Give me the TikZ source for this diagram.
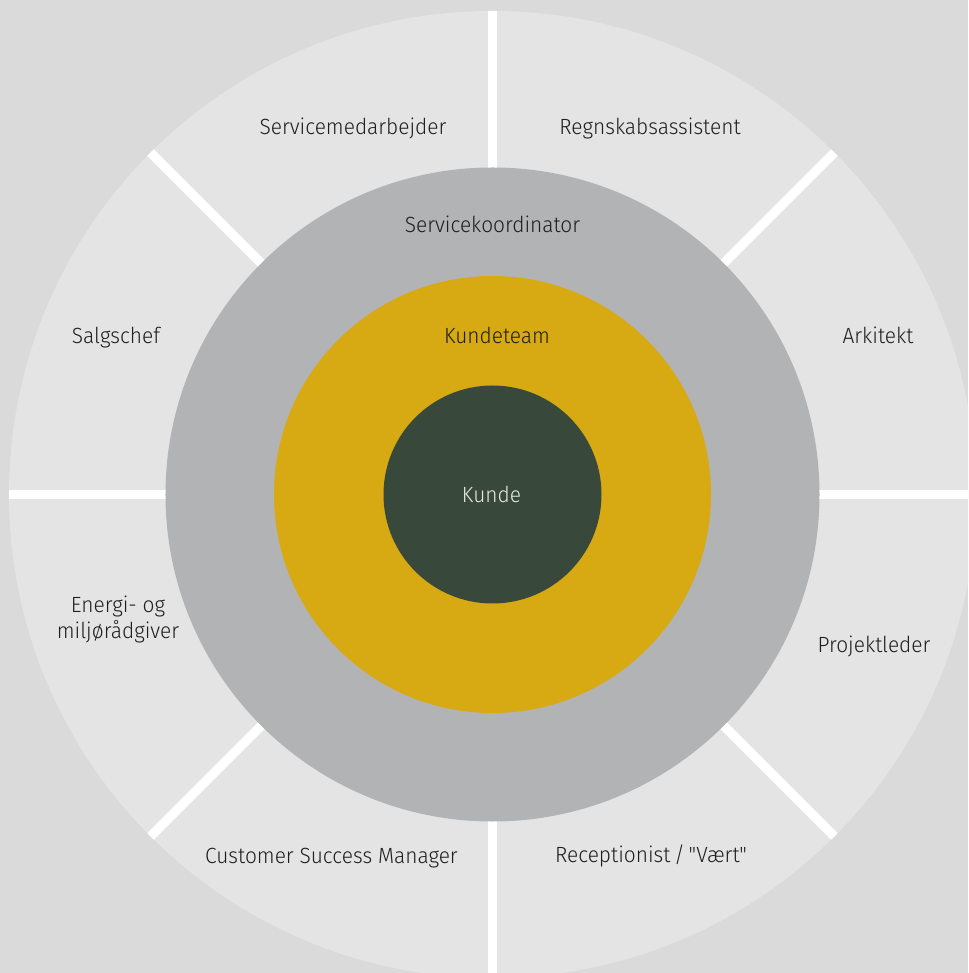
\documentclass[tikz,border=0pt]{standalone}
\usepackage{fontspec}
% label face without TeX quote mapping, so " stays a straight quote
\newfontfamily\labelfont{Fira Sans}[UprightFont={* Light}, FakeStretch=0.95]
\definecolor{bgcol}{HTML}{DADADA}
\definecolor{ringouter}{HTML}{E4E4E4}
\definecolor{ringgray}{HTML}{B2B3B5}
\definecolor{ringgold}{HTML}{D7AA13}
\definecolor{core}{HTML}{38483A}
\definecolor{txt}{HTML}{1E1E1E}
\definecolor{coretxt}{HTML}{E8E8E8}
\tikzset{
  lbl/.style={anchor=base, text=txt, font=\labelfont\fontsize{16.5}{19.5}\selectfont, inner sep=0pt, align=center},
  corelbl/.style={lbl, text=coretxt},
  divider/.style={draw=white, line width=7.1pt},
}
\begin{document}
\begin{tikzpicture}[x=0.75pt, y=0.75pt]
  % canvas
  \useasboundingbox (-492.5,-478.5) rectangle (475.5,494.5);
  \clip (-492.5,-478.5) rectangle (475.5,494.5);
  \fill[bgcol] (-492.5,-478.5) rectangle (475.5,494.5);

  % outer ring with the eight dividers
  \fill[ringouter] (0,0) circle[radius=483.5];
  \begin{scope}
    \clip (0,0) circle[radius=483.5];
    \foreach \a in {0,45,...,315}
      \draw[divider] (0,0) -- (\a:500);
  \end{scope}

  % inner rings
  \fill[ringgray] (0,0) circle[radius=327];
  \fill[ringgold] (0,0) circle[radius=218.5];
  \fill[core] (0,0) circle[radius=109];

  % labels of the outer ring
  \node[lbl] (servicemed) at (-139.5,359.5) {Servicemedarbejder};
  \node[lbl] (regnskab)   at (157.5,359.5)  {Regnskabsassistent};
  \node[lbl] (salg)       at (-376.5,150.5) {Salgschef};
  \node[lbl] (arkitekt)   at (385.5,150.5)  {Arkitekt};
  \node[lbl] (energi)     at (-374.5,-144.5) {Energi- og\\miljørådgiver};
  \node[lbl] (projekt)    at (381.5,-158.5) {Projektleder};
  \node[lbl] (csm)        at (-161,-368.5)  {Customer Success Manager};
  \node[lbl] (recept)     at (158.5,-367.5) {Receptionist\,/\,"Vært"};

  % labels of the inner rings
  \node[lbl] (koordinator) at (0,261.5)  {Servicekoordinator};
  \node[lbl] (kundeteam)   at (4.5,150.5) {Kundeteam};
  \node[corelbl] (kunde)   at (-1,-8)     {Kunde};
\end{tikzpicture}
\end{document}
